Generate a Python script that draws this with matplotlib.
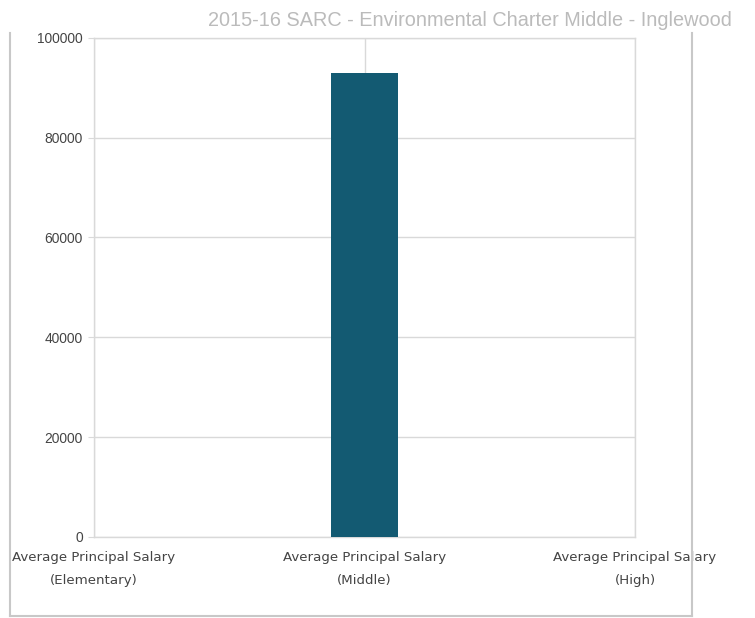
import matplotlib.pyplot as plt
from matplotlib.lines import Line2D

# principal salary by school level
categories = ['Average Principal Salary\n(Elementary)',
              'Average Principal Salary\n(Middle)',
              'Average Principal Salary\n(High)']
salaries = [0, 92870, 0]
title = '2015-16 SARC - Environmental Charter Middle - Inglewood'

fig = plt.figure(figsize=(7.55, 6.18), dpi=100)
ax = fig.add_axes([0.1245, 0.1311, 0.7166, 0.8079])

pos = list(range(len(categories)))
ax.bar(pos, salaries, width=0.248, color='#135a72', zorder=3)

ax.set_xlim(0, 2)
ax.set_ylim(0, 100000)
ax.set_yticks([0, 20000, 40000, 60000, 80000, 100000])
ax.set_xticks(pos)
ax.set_xticklabels(categories, family='DejaVu Sans', fontsize=9.6,
                   color='#444444', linespacing=2.0)
ax.tick_params(axis='x', length=0, pad=10)
ax.tick_params(axis='y', length=4, color='#d9d9d9', pad=4)
for lab in ax.get_yticklabels():
    lab.set_family('Liberation Sans')
    lab.set_fontsize(9.9)
    lab.set_color('#444444')

ax.grid(True, color='#d9d9d9', linewidth=1, zorder=0)
for s in ax.spines.values():
    s.set_color('#d9d9d9')
    s.set_linewidth(1)

# outer frame (left, right, bottom)
fc = '#c8c8c8'
x0, x1, y0, y1 = 0.0139, 0.9166, 0.0032, 0.9466
fig.add_artist(Line2D([x0, x0], [y0, y1], color=fc, lw=1.5, transform=fig.transFigure))
fig.add_artist(Line2D([x1, x1], [y0, y1], color=fc, lw=1.5, transform=fig.transFigure))
fig.add_artist(Line2D([x0, x1], [y0, y0], color=fc, lw=1.5, transform=fig.transFigure))

fig.text(0.9695, 0.958, title, ha='right', va='baseline',
         family='Liberation Sans', fontsize=14.3, color='#bbbbbb')

plt.savefig('out.png', dpi=100)
